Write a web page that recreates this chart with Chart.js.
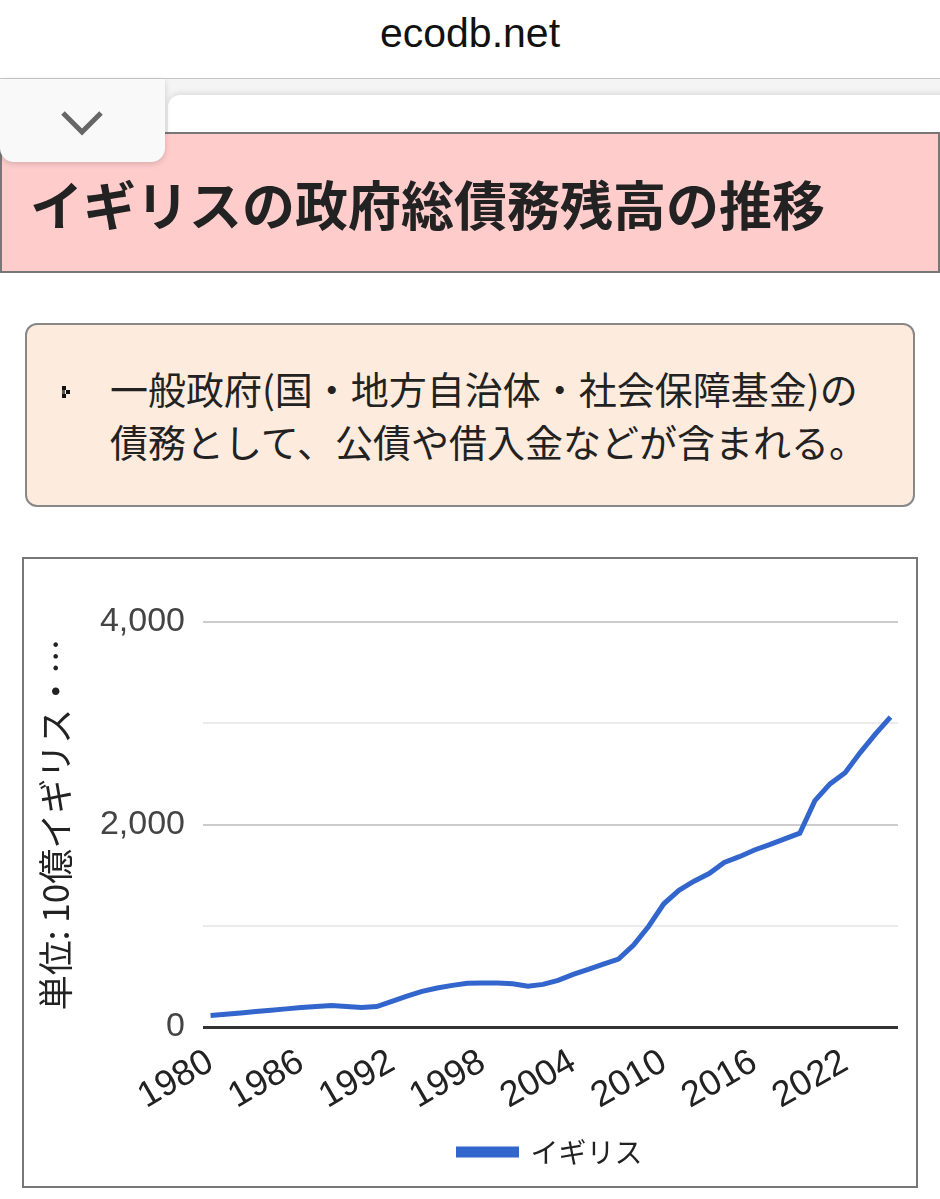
<!DOCTYPE html>
<html lang="ja">
<head>
<meta charset="utf-8">
<script src="https://cdn.jsdelivr.net/npm/chart.js@4.4.1/dist/chart.umd.min.js"></script>
<style>
  body { margin:0; width:940px; height:1199px; background:#fff; position:relative; overflow:hidden;
         font-family:"Noto Sans CJK JP", sans-serif; }
  #topbar { position:absolute; left:0; top:0; width:940px; height:78px; border-bottom:1px solid #c8c8c8;
            text-align:center; font:41px "Liberation Sans", Arial, sans-serif; line-height:66px; color:#111; }
  #strip { position:absolute; left:0; top:79px; width:940px; height:54px; background:#f4f4f4; }
  #bar { position:absolute; left:168px; top:95px; width:790px; height:45px; background:#fff;
         border-top-left-radius:12px; box-shadow:0 -2px 6px rgba(0,0,0,0.10); }
  #title { position:absolute; left:0; top:132px; width:936px; height:137px; background:#ffcccc;
           border:2px solid #777; }
  #title span { position:absolute; left:28px; top:34px; font-size:53px; font-weight:bold; color:#222;
                line-height:70px; white-space:nowrap; }
  #tab { position:absolute; left:0; top:79px; width:165px; height:83px; background:#f9f9f9;
         border-radius:0 0 14px 14px; box-shadow:0 2px 6px rgba(0,0,0,0.16); }
  #info { position:absolute; left:25px; top:323px; width:886px; height:180px; background:#fdebdd;
          border:2px solid #888; border-radius:12px; }
  #info .txt { position:absolute; left:83px; top:36px; font-size:38px; line-height:53px; color:#222;
               white-space:nowrap; }
  #info svg { position:absolute; left:35px; top:61px; }
  #box { position:absolute; left:22px; top:557px; width:892px; height:627px; border:2px solid #777; background:#fff; }
  #chart { position:absolute; left:0; top:0; }
</style>
</head>
<body>
<div id="topbar">ecodb.net</div>
<div id="strip"></div>
<div id="bar"></div>
<div id="title"><span>イギリスの政府総債務残高の推移</span></div>
<div id="tab">
  <svg width="165" height="83">
    <polyline points="63,34 82,53 101,34" fill="none" stroke="#666" stroke-width="5"/>
  </svg>
</div>
<div id="info">
  <svg width="10" height="14">
    <rect x="0" y="0" width="4" height="4" fill="#111"/>
    <rect x="4" y="4" width="4" height="4" fill="#111"/>
    <rect x="0" y="4" width="3" height="4" fill="#555"/>
    <rect x="0" y="8" width="4" height="4" fill="#111"/>
  </svg>
  <div class="txt">一般政府(国・地方自治体・社会保障基金)の<br>債務として、公債や借入金などが含まれる。</div>
</div>
<div id="box"><canvas id="chart" width="892" height="627"></canvas></div>

<script>
// values (10億ポンド)
var years = ['1980','1981','1982','1983','1984','1985','1986','1987','1988','1989',
             '1990','1991','1992','1993','1994','1995','1996','1997','1998','1999',
             '2000','2001','2002','2003','2004','2005','2006','2007','2008','2009',
             '2010','2011','2012','2013','2014','2015','2016','2017','2018','2019',
             '2020','2021','2022','2023','2024','2025'];
var debt = [113, 126, 139, 153, 166, 179, 192, 202, 212, 202,
            192, 202, 252, 305, 352, 385, 411, 431, 434, 434,
            428, 403, 421, 461, 520, 570, 620, 670, 809, 995,
            1217, 1350, 1440, 1516, 1625, 1682, 1748, 1801, 1858, 1914,
            2236, 2401, 2511, 2710, 2892, 3060];
var xTickYears = ['1980','1986','1992','1998','2004','2010','2016','2022'];
var yTickValues = [0, 2000, 4000];
var seriesName = 'イギリス';
var yAxisTitle = '単位: 10億イギリス・…';

var numFont = '"Liberation Sans", Arial, sans-serif';
var jpFont = '"Noto Sans CJK JP", sans-serif';

var ctx = document.getElementById('chart');
var myLineChart = new Chart(ctx, {
    type: 'line',
    data: {
        labels: years,
        datasets: [{
            label: seriesName,
            data: debt,
            borderColor: '#3366cc',
            backgroundColor: '#3366cc',
            borderWidth: 5,
            pointRadius: 0,
            tension: 0,
            fill: false
        }]
    },
    options: {
        responsive: false,
        animation: false,
        devicePixelRatio: 1,
        layout: { padding: { top: 63, right: 18, bottom: 10, left: 0 } },
        plugins: {
            legend: {
                position: 'bottom',
                fullSize: false,
                labels: {
                    boxWidth: 58,
                    boxHeight: 6,
                    padding: 10,
                    color: '#222',
                    font: { size: 28, family: jpFont }
                }
            },
            tooltip: { enabled: false }
        },
        scales: {
            x: {
                offset: true,
                grid: { display: false, drawTicks: false },
                border: { display: false },
                ticks: {
                    autoSkip: false,
                    minRotation: 30,
                    maxRotation: 30,
                    padding: 14,
                    color: '#222',
                    font: { size: 36, family: numFont },
                    callback: function(v, i) {
                        return xTickYears.indexOf(years[i]) >= 0 ? years[i] : '';
                    }
                },
                afterFit: function(scale) {
                    scale.height = 101;
                    // labels never reach the right edge, keep the plot width fixed
                    scale.paddingLeft = 0;
                    scale.paddingRight = 0;
                }
            },
            y: {
                min: 0,
                max: 4000,
                grid: {
                    drawTicks: false,
                    color: function(c) {
                        if (c.tick.value === 0) return '#333';
                        return c.tick.value % 2000 === 0 ? '#cccccc' : '#ebebeb';
                    },
                    lineWidth: function(c) { return c.tick.value === 0 ? 3 : 2; }
                },
                border: { display: false },
                ticks: {
                    stepSize: 1000,
                    padding: 18,
                    color: '#444',
                    font: { size: 34, family: numFont },
                    callback: function(v) {
                        return yTickValues.indexOf(v) >= 0 ? v.toLocaleString('en-US') : '';
                    }
                },
                title: {
                    display: true,
                    text: yAxisTitle,
                    color: '#222',
                    font: { size: 35, family: jpFont },
                    padding: { top: 11, bottom: 0 }
                },
                afterFit: function(scale) { scale.width = 179; }
            }
        }
    }
});
</script>
</body>
</html>
